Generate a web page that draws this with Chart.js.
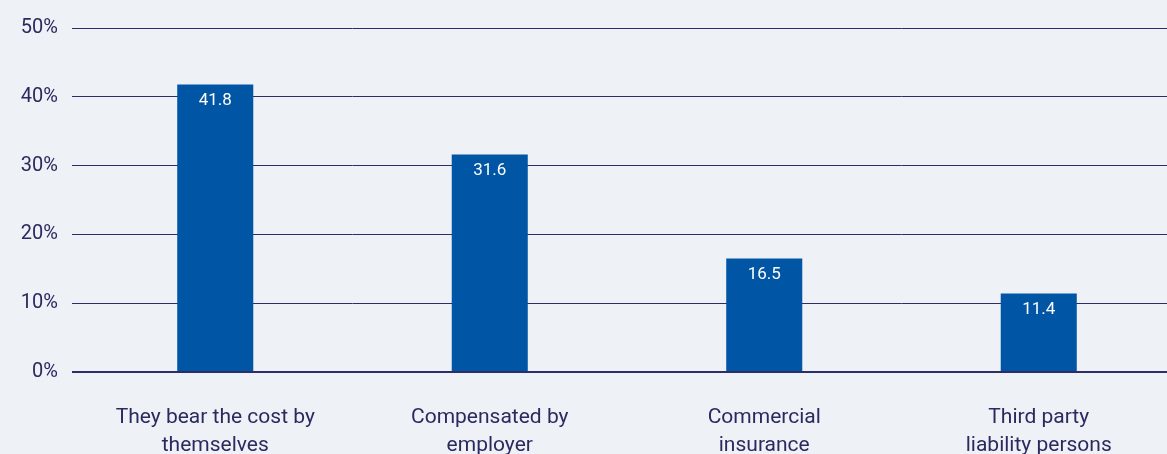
<!DOCTYPE html>
<html>
<head>
<meta charset="utf-8">
<script src="https://cdn.jsdelivr.net/npm/chart.js@4"></script>
<style>
  html, body { margin: 0; padding: 0; background: #eef2f7; overflow: hidden; }
  #chart { display: block; }
</style>
</head>
<body>
<canvas id="chart" width="1176" height="454"></canvas>
<script>
const categories = [['They bear the cost by', 'themselves'], ['Compensated by', 'employer'], ['Commercial', 'insurance'], ['Third party', 'liability persons']];
const values = [41.8, 31.6, 16.5, 11.4];
const yTicks = [0, 10, 20, 30, 40, 50];

const fontFamily = 'Roboto, "Open Sans", sans-serif';
const textColor = '#2b2a5e';

// white value labels inside the top of each bar
const barLabels = {
    id: 'barLabels',
    afterDatasetsDraw(chart) {
        const ctx = chart.ctx;
        const meta = chart.getDatasetMeta(0);
        ctx.save();
        ctx.fillStyle = '#ffffff';
        ctx.font = '17px ' + fontFamily;
        ctx.textAlign = 'center';
        ctx.textBaseline = 'middle';
        meta.data.forEach((bar, i) => {
            ctx.fillText(values[i].toFixed(1), bar.x, bar.y + 16);
        });
        ctx.restore();
    }
};

new Chart(document.getElementById('chart').getContext('2d'), {
    type: 'bar',
    data: {
        labels: categories,
        datasets: [{
            data: values,
            backgroundColor: '#0055a4',
            barPercentage: 0.277,
            categoryPercentage: 1
        }]
    },
    options: {
        responsive: false,
        animation: false,
        layout: { padding: { top: 28, right: 0, left: 0, bottom: 0 } },
        plugins: { legend: { display: false }, tooltip: { enabled: false } },
        scales: {
            x: {
                grid: { display: false },
                border: { display: false },
                ticks: { color: textColor, font: { family: fontFamily, size: 21, lineHeight: 1.33 }, padding: 24, maxRotation: 0 },
                afterFit(scale) { scale.height = 82; }
            },
            y: {
                min: 0,
                max: 50,
                afterBuildTicks(scale) { scale.ticks = yTicks.map(v => ({ value: v })); },
                border: { display: false },
                grid: {
                    color: '#2e2c6b',
                    lineWidth: c => c.tick && c.tick.value === 0 ? 2 : 1,
                    tickLength: 6
                },
                ticks: {
                    color: textColor,
                    font: { family: fontFamily, size: 20 },
                    padding: 14,
                    callback: v => v + '%'
                },
                afterFit(scale) { scale.width = 78; }
            }
        }
    },
    plugins: [barLabels]
});
</script>
</body>
</html>
